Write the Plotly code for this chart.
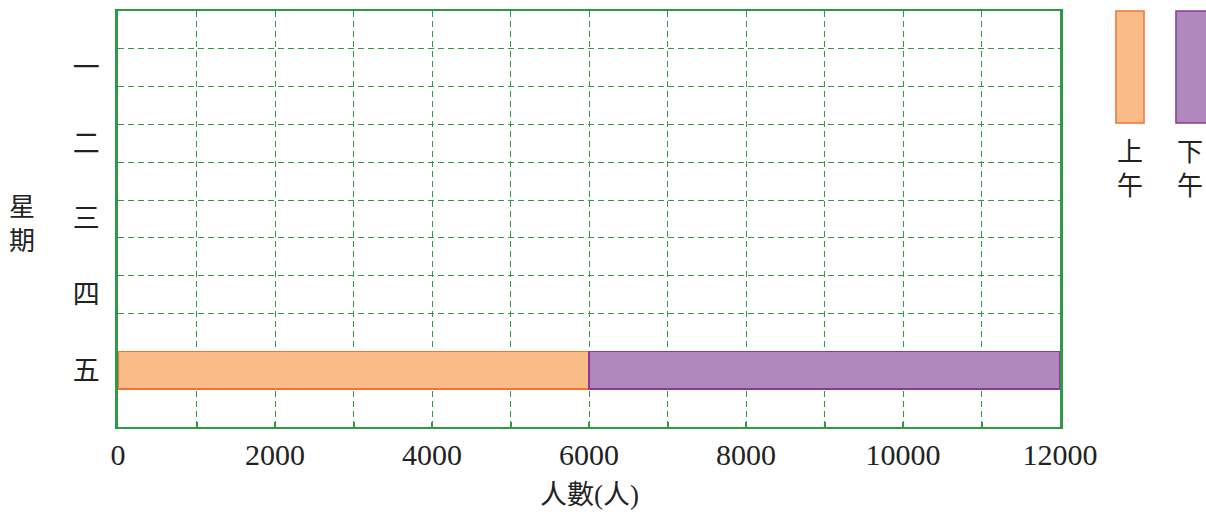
import plotly.graph_objects as go

days = ["一", "二", "三", "四", "五"]
am_values = [None, None, None, None, 6000]
pm_values = [None, None, None, None, 6000]
x_tickvals = [0, 1000, 2000, 3000, 4000, 5000, 6000, 7000, 8000, 9000, 10000, 11000, 12000]
x_ticktext = ["0", "", "2000", "", "4000", "", "6000", "", "8000", "", "10000", "", "12000"]
series_names = ["上午", "下午"]
x_title = "人數(人)"
y_title = "星期"

GREEN = "#2f9a45"
ORANGE_FILL = "#f9bb87"
ORANGE_LINE = "#ee7633"
PURPLE_FILL = "#b088bd"
PURPLE_LINE = "#8a3b96"
FONT = "Liberation Serif, Noto Sans CJK TC, serif"
DASH = "6px,4px"

ypos = list(range(len(days)))

fig = go.Figure()
fig.add_trace(go.Bar(y=ypos, x=am_values, orientation="h", width=0.5, name=series_names[0],
                     marker=dict(color=ORANGE_FILL, line=dict(color=ORANGE_LINE, width=1.5))))
fig.add_trace(go.Bar(y=ypos, x=pm_values, orientation="h", width=0.5, name=series_names[1],
                     marker=dict(color=PURPLE_FILL, line=dict(color=PURPLE_LINE, width=1.5))))

fig.update_layout(
    width=1206, height=512,
    margin=dict(l=118, r=146, t=11, b=85),
    barmode="stack",
    showlegend=False,
    plot_bgcolor="white",
    paper_bgcolor="white",
    font=dict(family=FONT, color="#222", size=26),
)

fig.update_xaxes(
    range=[0, 12000],
    tickvals=x_tickvals, ticktext=x_ticktext,
    tickfont=dict(family=FONT, size=30, color="#222"),
    ticks="inside", ticklen=5, tickcolor=GREEN, tickwidth=1.5,
    showgrid=True, gridcolor=GREEN, griddash=DASH, gridwidth=1.3,
    showline=True, linecolor=GREEN, linewidth=2, mirror=True,
    zeroline=False, automargin=False,
)

fig.update_yaxes(
    range=[4.75, -0.75],
    tickvals=ypos, ticktext=days,
    tickfont=dict(family=FONT, size=27, color="#222"),
    ticks="", ticklabelstandoff=10,
    showgrid=False,
    minor=dict(tick0=0.25, dtick=0.5, showgrid=True, gridcolor=GREEN, griddash=DASH, gridwidth=1.3),
    showline=True, linecolor=GREEN, linewidth=2.5, mirror=True,
    zeroline=False, automargin=False,
)

# x axis title
fig.add_annotation(xref="paper", yref="paper", x=0.5, y=-0.1635, text=x_title,
                   showarrow=False, font=dict(family=FONT, size=27, color="#222"),
                   xanchor="center", yanchor="middle")

# y axis title (vertical stacked characters)
fig.add_annotation(xref="paper", yref="paper", x=-0.102, y=0.4856, text="<br>".join(list(y_title)),
                   showarrow=False, font=dict(family=FONT, size=26, color="#222"),
                   xanchor="center", yanchor="middle")

# custom legend boxes
legend_items = [(series_names[0], ORANGE_FILL, ORANGE_LINE, 1.0594, 1.0892),
                (series_names[1], PURPLE_FILL, PURPLE_LINE, 1.1231, 1.17)]
for name, fill, line, x0, x1 in legend_items:
    fig.add_shape(type="rect", xref="paper", yref="paper", x0=x0, x1=x1, y0=0.7308, y1=1.0,
                  fillcolor=fill, line=dict(color=line, width=1.5))
    fig.add_annotation(xref="paper", yref="paper", x=x0 + 0.0149,
                       y=0.70, text="<br>".join(list(name)), showarrow=False,
                       font=dict(family=FONT, size=26, color="#222"),
                       xanchor="center", yanchor="top")

fig.write_html("out.html", config={"displayModeBar": False},
               post_script="document.body.style.margin='0';document.body.style.overflow='hidden';")
